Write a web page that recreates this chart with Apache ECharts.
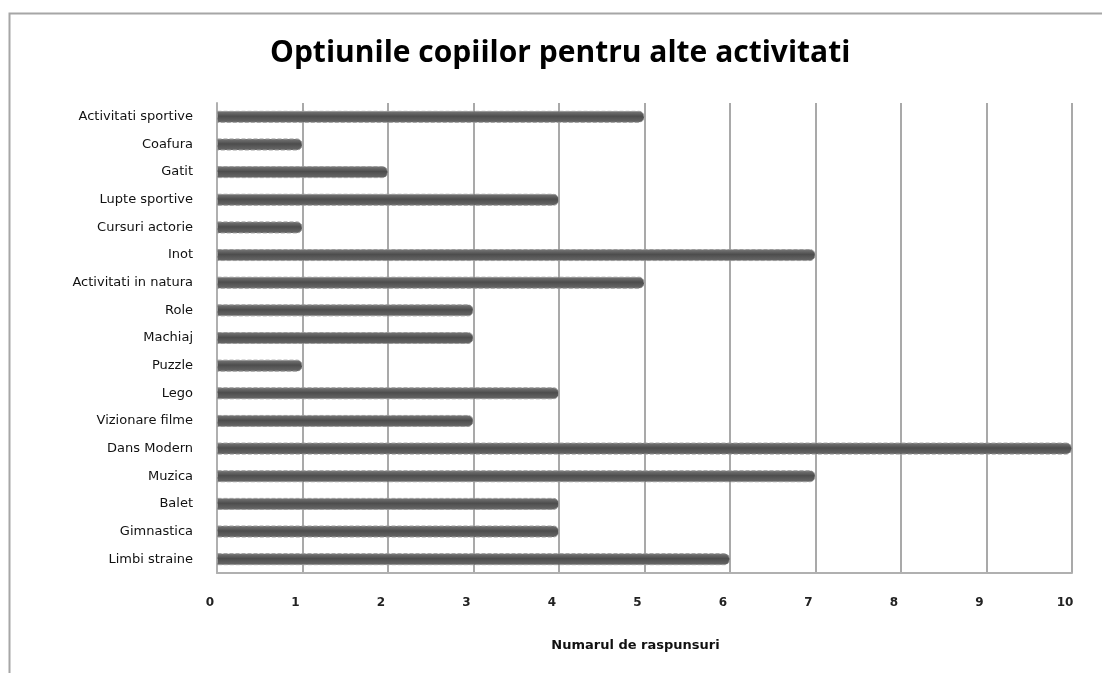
<!DOCTYPE html>
<html>
<head>
<meta charset="utf-8">
<script src="https://cdn.jsdelivr.net/npm/echarts@6/dist/echarts.min.js"></script>
<style>
html, body { margin: 0; padding: 0; background: #fff; }
#chart { width: 1102px; height: 673px; }
</style>
</head>
<body>
<div id="chart"></div>
<script>
// optiuni (de sus in jos)
var categories = ['Activitati sportive', 'Coafura', 'Gatit', 'Lupte sportive', 'Cursuri actorie', 'Inot',
  'Activitati in natura', 'Role', 'Machiaj', 'Puzzle', 'Lego', 'Vizionare filme', 'Dans Modern',
  'Muzica', 'Balet', 'Gimnastica', 'Limbi straine']
var raspunsuri = [5, 1, 2, 4, 1, 7, 5, 3, 3, 1, 4, 3, 10, 7, 4, 4, 6]
var xTicks = [0, 1, 2, 3, 4, 5, 6, 7, 8, 9, 10]

var chart = echarts.init(document.getElementById('chart'))
chart.setOption({
  backgroundColor: '#fff',
  animation: false,
  title: {
    text: 'Optiunile copiilor pentru alte activitati',
    left: 270,
    top: 38,
    padding: 0,
    textStyle: {
      fontFamily: 'Open Sans',
      fontWeight: 'bold',
      fontSize: 30,
      color: '#000'
    }
  },
  graphic: [{
    type: 'rect',
    shape: { x: 9.5, y: 13.5, width: 1200, height: 800 },
    style: { fill: 'none', stroke: '#a6a6a6', lineWidth: 2 },
    silent: true
  }],
  grid: {
    left: 217,
    right: 30,
    top: 103,
    bottom: 100
  },
  xAxis: {
    type: 'value',
    min: 0,
    max: 10,
    interval: 1,
    name: 'Numarul de raspunsuri',
    nameLocation: 'middle',
    nameGap: 66,
    nameTextStyle: {
      fontFamily: 'DejaVu Sans',
      fontWeight: 'bold',
      fontSize: 13,
      color: '#111',
      padding: [0, 18, 0, 0]
    },
    axisLine: { show: true, lineStyle: { color: '#b0b0b0', width: 2 } },
    axisTick: { show: false },
    splitLine: { show: true, lineStyle: { color: '#8c8c8c', width: 1.5 } },
    axisLabel: {
      margin: 24,
      fontFamily: 'DejaVu Sans',
      fontWeight: 'bold',
      fontSize: 12,
      color: '#222',
      padding: [0, 14, 0, 0],
      formatter: function (v) { return xTicks.indexOf(v) >= 0 ? String(v) : '' }
    }
  },
  yAxis: {
    type: 'category',
    data: categories,
    inverse: true,
    axisLine: { show: true, lineStyle: { color: '#b0b0b0', width: 2 } },
    axisTick: { show: false },
    axisLabel: {
      margin: 24,
      fontFamily: 'DejaVu Sans',
      fontSize: 13,
      color: '#111'
    }
  },
  series: [{
    type: 'bar',
    data: raspunsuri,
    barWidth: 12,
    itemStyle: {
      color: new echarts.graphic.LinearGradient(0, 0, 0, 1, [
        { offset: 0, color: '#7a7a7a' },
        { offset: 0.45, color: '#4d4d4d' },
        { offset: 1, color: '#6a6a6a' }
      ]),
      borderColor: '#9a9a9a',
      borderWidth: 1,
      borderType: 'dashed',
      borderRadius: [0, 5, 5, 0]
    }
  }]
})
</script>
</body>
</html>
